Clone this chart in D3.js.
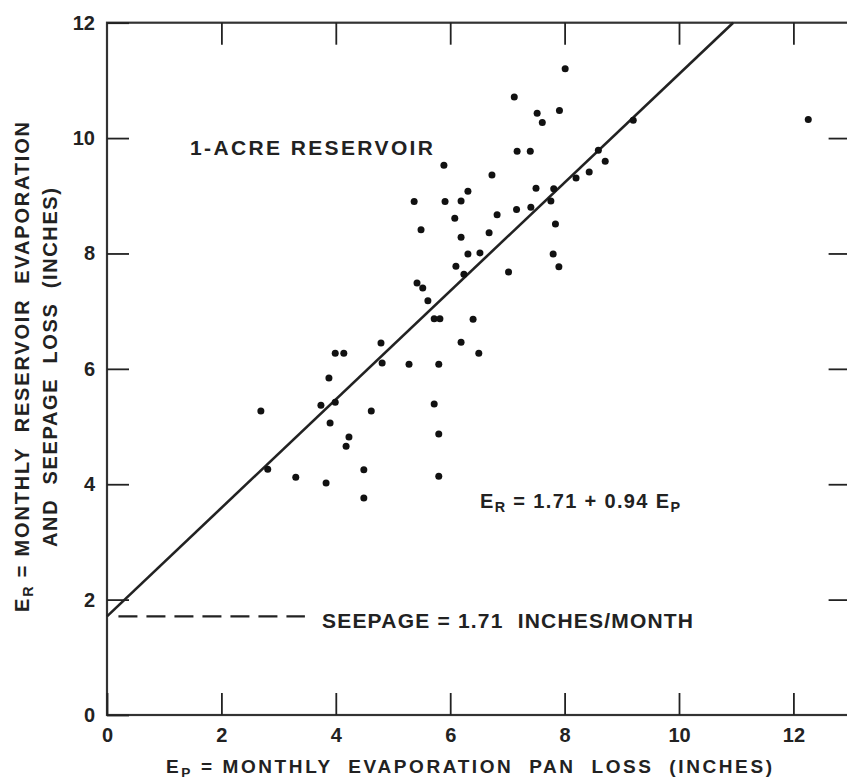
<!DOCTYPE html>
<html>
<head>
<meta charset="utf-8">
<script src="https://cdn.jsdelivr.net/npm/d3@7"></script>
<style>
  html, body { margin: 0; padding: 0; background: #fff; }
  svg { display: block; }
  text { font-family: "Liberation Sans", Arial, sans-serif; font-weight: bold; fill: #222; }
</style>
</head>
<body>
<svg id="chart" width="847" height="780"></svg>
<script>
// ---- data ----
const xTickValues = [0, 2, 4, 6, 8, 10, 12];
const yTickValues = [0, 2, 4, 6, 8, 10, 12];

// E_P : monthly evaporation pan loss (inches)
const panLoss = [2.69, 2.81, 3.30, 3.74, 3.88, 3.99, 4.14, 3.90, 3.99, 3.83,
  4.23, 4.18, 4.62, 4.79, 4.81, 4.49, 4.49, 5.28, 5.37, 5.49,
  5.42, 5.52, 5.61, 5.72, 5.82, 5.72, 5.80, 5.80, 5.80, 5.89,
  5.91, 6.19, 6.08, 6.19, 6.10, 6.24, 6.31, 6.31, 6.52, 6.19,
  6.50, 6.40, 6.73, 6.68, 6.82, 7.02, 7.12, 7.17, 7.40, 7.16,
  7.41, 7.52, 7.61, 7.50, 7.76, 7.81, 7.84, 7.80, 7.90, 7.91,
  8.01, 8.20, 8.43, 8.59, 8.71, 9.20, 12.26];
// E_R : monthly reservoir evaporation and seepage loss (inches)
const reservoirLoss = [5.27, 4.26, 4.12, 5.37, 5.84, 6.27, 6.27, 5.06, 5.42, 4.02,
  4.82, 4.66, 5.27, 6.45, 6.10, 4.25, 3.76, 6.08, 8.90, 8.41,
  7.49, 7.40, 7.18, 6.87, 6.87, 5.39, 6.08, 4.87, 4.14, 9.53,
  8.90, 8.91, 8.61, 8.28, 7.78, 7.64, 9.08, 7.99, 8.01, 6.46,
  6.27, 6.86, 9.36, 8.36, 8.67, 7.68, 10.71, 9.77, 9.77, 8.76,
  8.80, 10.43, 10.27, 9.13, 8.91, 9.12, 8.51, 7.99, 7.77, 10.48,
  11.20, 9.31, 9.41, 9.79, 9.60, 10.31, 10.32];

const intercept = 1.71;   // seepage, inches/month
const slope = 0.94;
const seepageSpan = [0.2, 3.46];   // extent of dashed seepage line along E_P

// ---- layout ----
const svg = d3.select("#chart");
const plot = { left: 107, right: 850.6, top: 22.7, bottom: 715 };
const tickLen = 22;

const x = d3.scaleLinear().domain([0, 13]).range([plot.left, plot.right]);
const y = d3.scaleLinear().domain([0, 12]).range([plot.bottom, plot.top]);

const ink = "#222";

// frame
svg.append("rect")
  .attr("x", plot.left).attr("y", plot.top)
  .attr("width", plot.right - plot.left).attr("height", plot.bottom - plot.top)
  .attr("fill", "none").attr("stroke", "#333").attr("stroke-width", 2.2);

function styleAxis(g, showText) {
  g.select(".domain").remove();
  g.selectAll(".tick line").attr("stroke", ink).attr("stroke-width", 1.8);
  g.selectAll(".tick text")
    .style("font-size", "20px").attr("fill", ink)
    .style("display", showText ? null : "none");
}

svg.append("g").attr("transform", `translate(0,${plot.bottom})`)
  .call(d3.axisBottom(x).tickValues(xTickValues).tickFormat(d3.format("d"))
    .tickSizeInner(-tickLen).tickSizeOuter(0).tickPadding(13))
  .call(g => styleAxis(g, true));

svg.append("g").attr("transform", `translate(${plot.left},0)`)
  .call(d3.axisLeft(y).tickValues(yTickValues).tickFormat(d3.format("d"))
    .tickSizeInner(-tickLen).tickSizeOuter(0).tickPadding(12))
  .call(g => styleAxis(g, true));

svg.append("g").attr("transform", `translate(0,${plot.top})`)
  .call(d3.axisTop(x).tickValues(xTickValues.filter(d => d > 0)).tickFormat("")
    .tickSizeInner(-tickLen).tickSizeOuter(0))
  .call(g => styleAxis(g, false));

svg.append("g").attr("transform", `translate(${plot.right},0)`)
  .call(d3.axisRight(y).tickValues(yTickValues.filter(d => d > 0 && d < 12)).tickFormat("")
    .tickSizeInner(-tickLen).tickSizeOuter(0))
  .call(g => styleAxis(g, false));

// regression line
const xEnd = (12 - intercept) / slope;
svg.append("line")
  .attr("x1", x(0)).attr("y1", y(intercept))
  .attr("x2", x(xEnd)).attr("y2", y(intercept + slope * xEnd))
  .attr("stroke", ink).attr("stroke-width", 2.6);

// seepage dashed line
svg.append("line")
  .attr("x1", x(seepageSpan[0])).attr("y1", y(intercept))
  .attr("x2", x(seepageSpan[1])).attr("y2", y(intercept))
  .attr("stroke", ink).attr("stroke-width", 2.4)
  .attr("stroke-dasharray", "19,9");

// points
svg.append("g").selectAll("circle")
  .data(panLoss.map((v, i) => [v, reservoirLoss[i]]))
  .join("circle")
  .attr("cx", d => x(d[0])).attr("cy", d => y(d[1]))
  .attr("r", 3.5).attr("fill", "#111");

// ---- text helpers ----
function fitText(sel, target) {
  const node = sel.node();
  const n = node.getNumberOfChars();
  const natural = node.getComputedTextLength();
  const ls = (target - natural) / Math.max(1, n - 1);
  sel.style("letter-spacing", ls + "px");
}

function label(parts, opts) {
  const t = svg.append("text")
    .attr("x", opts.x).attr("y", opts.y)
    .style("font-size", opts.size + "px")
    .style("white-space", "pre");
  if (opts.rotate) t.attr("transform", `rotate(-90,${opts.x},${opts.y})`);
  parts.forEach(p => {
    const s = t.append("tspan").text(p.t);
    if (p.sub) s.attr("baseline-shift", "-25%").style("font-size", (opts.size * 0.72) + "px");
  });
  fitText(t, opts.width);
  return t;
}

label([{ t: "1-ACRE RESERVOIR" }], { x: 190, y: 155, size: 21, width: 243 });

label([{ t: "E" }, { t: "R", sub: true }, { t: " = 1.71 + 0.94 E" }, { t: "P", sub: true }],
  { x: 480, y: 508, size: 20, width: 200 });

label([{ t: "SEEPAGE = 1.71  INCHES/MONTH" }], { x: 322, y: 628, size: 21, width: 371 });

label([{ t: "E" }, { t: "P", sub: true }, { t: " = MONTHLY  EVAPORATION  PAN  LOSS  (INCHES)" }],
  { x: 166, y: 773, size: 19, width: 606 });

label([{ t: "E" }, { t: "R", sub: true }, { t: " = MONTHLY  RESERVOIR  EVAPORATION" }],
  { x: 29, y: 612, size: 20, width: 490, rotate: true });

label([{ t: "AND  SEEPAGE  LOSS  (INCHES)" }],
  { x: 57, y: 547, size: 20, width: 359, rotate: true });
</script>
</body>
</html>
